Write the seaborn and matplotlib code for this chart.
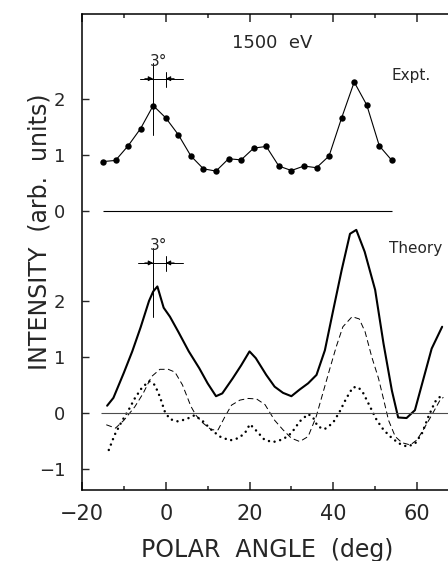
import matplotlib
matplotlib.use("Agg")
import matplotlib.pyplot as plt
import seaborn as sns

# experiment (upper panel), values in arb. units
expt_angle = [-15, -12, -9, -6, -3, 0, 3, 6, 9, 12, 15, 18, 21, 24, 27, 30, 33, 36, 39, 42, 45, 48, 51, 54]
expt_int = [0.89, 0.91, 1.17, 1.48, 1.89, 1.67, 1.37, 0.99, 0.76, 0.72, 0.94, 0.92,
            1.13, 1.16, 0.81, 0.73, 0.81, 0.78, 0.99, 1.67, 2.31, 1.90, 1.17, 0.91]

# theory (lower panel): solid = total, dashed and dotted = components
solid_angle = [-14, -12.5, -10, -8, -6, -4, -3, -2, -0.5, 1, 3, 5.5, 8, 10, 12, 13.5, 16, 18, 20, 21.5,
               24, 26, 28, 30, 32, 34, 36, 38, 40, 42, 44, 45.5, 47.5, 50, 52, 54, 55.5, 57.5, 59.5,
               61.5, 63.5, 66]
solid_int = [0.13, 0.27, 0.72, 1.10, 1.53, 2.00, 2.17, 2.26, 1.88, 1.72, 1.45, 1.10, 0.80, 0.53, 0.30,
             0.35, 0.62, 0.85, 1.10, 0.98, 0.68, 0.47, 0.36, 0.30, 0.42, 0.53, 0.68, 1.12, 1.84, 2.55,
             3.20, 3.27, 2.88, 2.20, 1.24, 0.40, -0.08, -0.09, 0.05, 0.60, 1.15, 1.54]

dash_angle = [-14.2, -12, -10, -7.4, -5.4, -3.4, -1.4, 0.6, 2.2, 4, 6, 7.2, 8.9, 10.9, 12.5, 14.1, 15.7,
              17.7, 19.7, 21.7, 23.7, 26, 28, 30, 32, 34, 35.9, 37.5, 39.1, 40.7, 42.3, 44.5, 46.2,
              47.6, 49.2, 50.8, 52, 53.2, 54.8, 56.4, 58.4, 60, 61.5, 63.5, 65.5, 66.3]
dash_int = [-0.21, -0.27, -0.13, 0.11, 0.35, 0.65, 0.78, 0.78, 0.73, 0.50, 0.12, -0.04, -0.18, -0.30,
            -0.30, -0.07, 0.14, 0.23, 0.26, 0.25, 0.15, -0.13, -0.30, -0.45, -0.51, -0.42, -0.07, 0.35,
            0.77, 1.18, 1.54, 1.72, 1.68, 1.45, 1.00, 0.62, 0.25, -0.13, -0.42, -0.53, -0.57, -0.48,
            -0.30, -0.04, 0.23, 0.28]

dot_angle = [-13.6, -12.2, -10.5, -8.9, -7.4, -5.8, -4.0, -2.6, -1.4, -0.2, 1.0, 2.9, 4.9, 6.9, 8.9,
             10.9, 12.9, 15.3, 17.3, 18.9, 20.1, 21.3, 23.6, 25.6, 28.0, 30.0, 32.0, 34.0, 35.1, 36.3,
             37.9, 39.9, 41.5, 43.1, 44.7, 46.0, 47.2, 48.8, 50.4, 52.0, 53.6, 55.6, 57.6, 59.5, 61.2,
             62.7, 64.3, 65.5, 66.2]
dot_int = [-0.66, -0.39, -0.15, 0.05, 0.26, 0.44, 0.57, 0.50, 0.29, 0.02, -0.11, -0.15, -0.11, -0.04,
           -0.15, -0.30, -0.42, -0.49, -0.45, -0.36, -0.20, -0.29, -0.48, -0.52, -0.47, -0.36, -0.15,
           -0.02, -0.07, -0.24, -0.29, -0.18, 0.02, 0.26, 0.46, 0.46, 0.35, 0.11, -0.13, -0.30, -0.42,
           -0.54, -0.60, -0.55, -0.36, -0.07, 0.20, 0.29, 0.31]

lower_ticks = [-1, 0, 1, 2]
upper_ticks = [0, 1, 2]
x_major = [-20, 0, 20, 40, 60]
x_minor = [-10, 10, 30, 50]

OFFSET = 3.6   # upper panel is drawn shifted up on the same axis

sns.set_style("ticks")
plt.rcParams['font.family'] = ['DejaVu Sans']
plt.rcParams['axes.unicode_minus'] = True

fig = plt.figure(figsize=(4.48, 5.61), dpi=100)
ax = fig.add_axes([82 / 448, 1 - 490 / 561, 366 / 448, 476 / 561])

# upper: experiment
sns.lineplot(x=expt_angle, y=[v + OFFSET for v in expt_int], ax=ax, color='k', lw=0.8,
             marker='o', markersize=4.6, markeredgewidth=0, estimator=None, sort=False)
ax.hlines(OFFSET, expt_angle[0], expt_angle[-1], color='k', lw=0.8)

# lower: theory
sns.lineplot(x=solid_angle, y=solid_int, ax=ax, color='k', lw=1.5, estimator=None, sort=False)
sns.lineplot(x=dash_angle, y=dash_int, ax=ax, color='k', lw=0.7, linestyle=(0, (6, 3.5)),
             estimator=None, sort=False)
sns.lineplot(x=dot_angle, y=dot_int, ax=ax, color='k', lw=1.8, linestyle=(0, (0.01, 2.3)),
             dash_capstyle='round', estimator=None, sort=False)
ax.hlines(0, -15.4, 68, color='0.3', lw=0.8)

# 3 degree markers
for vtop, vbot, hy, x0, x1, ty in [(6.25, 4.96, 5.97, -6.2, 4.0, 6.27),
                                    (2.95, 1.71, 2.68, -6.6, 4.1, 2.99)]:
    ax.plot([-3, -3], [vbot, vtop], color='k', lw=0.7)
    ax.plot([0, 0], [hy - 0.14, hy + 0.12], color='k', lw=0.7)
    ax.plot([x0, x1], [hy, hy], color='k', lw=0.7)
    ax.annotate('', xy=(-3, hy), xytext=(-5.0, hy),
                arrowprops=dict(arrowstyle='-|>', lw=0.7, color='k', mutation_scale=7,
                                shrinkA=0, shrinkB=0))
    ax.annotate('', xy=(0, hy), xytext=(2.0, hy),
                arrowprops=dict(arrowstyle='-|>', lw=0.7, color='k', mutation_scale=7,
                                shrinkA=0, shrinkB=0))
    ax.text(-1.6, ty, '3°', fontsize=11, ha='center', va='center')

ax.text(25.3, 6.60, '1500  eV', fontsize=13, ha='center', va='center')
ax.text(54.0, 6.02, 'Expt.', fontsize=11, ha='left', va='center')
ax.text(53.3, 2.93, 'Theory', fontsize=11, ha='left', va='center')

ax.set_xlim(-20, 67.4)
ax.set_ylim(-1.375, 7.125)
ax.set_xticks(x_major)
ax.set_xticks(x_minor, minor=True)
ax.set_xticklabels([f'{v:d}'.replace('-', '\u2212') for v in x_major], fontsize=15)
yt = lower_ticks + [v + OFFSET for v in upper_ticks]
ax.set_yticks(yt)
ax.set_yticklabels([f'{v:d}'.replace('-', '\u2212') for v in lower_ticks + upper_ticks], fontsize=13)

ax.tick_params(axis='x', which='major', direction='in', length=5.5, width=1.1, top=True, pad=10)
ax.tick_params(axis='x', which='minor', direction='in', length=3.2, width=1.1, top=True)
ax.tick_params(axis='y', which='major', direction='in', length=5, width=1.0, pad=12)
for s in ['left', 'top', 'bottom']:
    ax.spines[s].set_linewidth(1.1)
    ax.spines[s].set_color('k')
ax.spines['right'].set_visible(False)

fig.text(266.7 / 448, 1 - 557 / 561, 'POLAR  ANGLE  (deg)', fontsize=17, ha='center',
         va='baseline')
fig.text(40 / 448, 1 - 232 / 561, 'INTENSITY  (arb.  units)', fontsize=17, rotation=90,
         ha='center', va='center')

fig.savefig('out.png', dpi=100)
